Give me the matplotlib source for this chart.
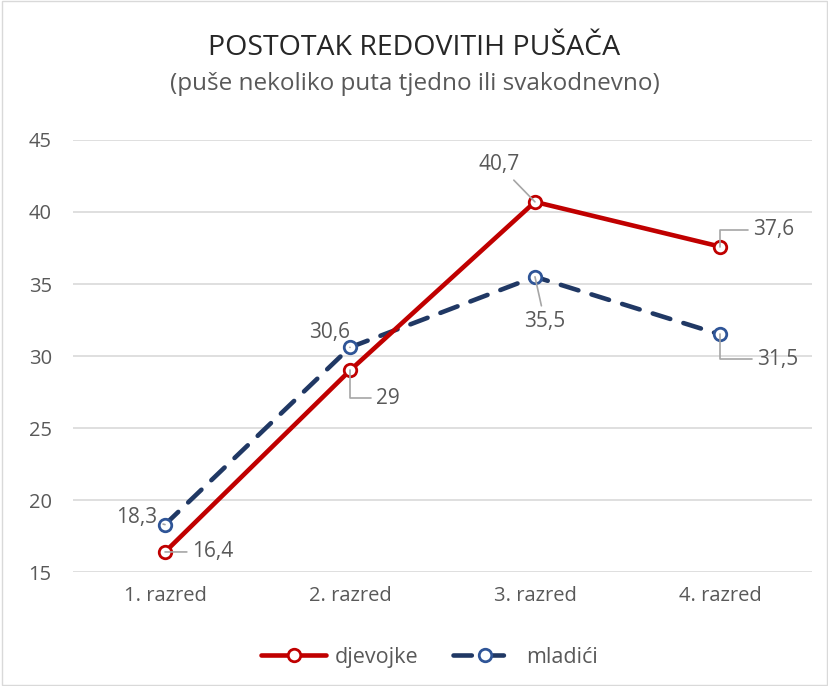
import matplotlib.pyplot as plt
from matplotlib.patches import Rectangle

plt.rcParams['font.family'] = ['Open Sans', 'DejaVu Sans']

razredi = ['1. razred', '2. razred', '3. razred', '4. razred']
djevojke = [16.4, 29, 40.7, 37.6]
mladici = [18.3, 30.6, 35.5, 31.5]
labels_d = ['16,4', '29', '40,7', '37,6']
labels_m = ['18,3', '30,6', '35,5', '31,5']

red = '#C00000'
navy = '#203864'
navy_edge = '#2F5597'
grey = '#595959'

fig = plt.figure(figsize=(8.29, 6.86), dpi=100)
ax = fig.add_axes([0.0875, 0.166, 0.8925, 0.63])

x = range(len(razredi))
ax.plot(x, djevojke, color=red, lw=3.3, marker='o', ms=9, mfc='white',
        mec=red, mew=2, label='djevojke', zorder=4, solid_capstyle='round')
ax.plot(x, mladici, color=navy, lw=3.3, ls=(0, (4, 3)), marker='o', ms=9,
        mfc='white', mec=navy_edge, mew=2, label='mladići', zorder=3,
        dash_capstyle='round')

# pomaci oznaka u pikselima i oblik spojnice
off_d = [(48, 0), (38, -28), (-36, 37), (54, 17)]
off_m = [(-28, 7), (-20, 15), (10, -45), (58, -25)]
con_d = ['arc3', 'angle,angleA=0,angleB=90,rad=0', 'arc3',
         'angle,angleA=0,angleB=90,rad=0']
con_m = ['arc3', 'arc3', 'arc3', 'angle,angleA=0,angleB=90,rad=0']
for i in x:
    for val, lab, off, con in ((djevojke[i], labels_d[i], off_d[i], con_d[i]),
                               (mladici[i], labels_m[i], off_m[i], con_m[i])):
        ax.annotate(lab, xy=(i, val), xytext=off, textcoords='offset pixels',
                    ha='center', va='center', fontsize=15, color=grey,
                    arrowprops=dict(arrowstyle='-', color='#a6a6a6', lw=1.2,
                                    shrinkA=2, shrinkB=0, connectionstyle=con),
                    zorder=5)

ax.set_xlim(-0.5, 3.5)
ax.set_ylim(15, 45)
ax.set_yticks(range(15, 46, 5))
ax.set_xticks(list(x))
ax.set_xticklabels(razredi)
ax.grid(axis='y', color='#d9d9d9', lw=1.2)
ax.set_axisbelow(True)
for s in ax.spines.values():
    s.set_visible(False)
ax.tick_params(length=0, labelsize=14.5, colors=grey, pad=10)
ax.tick_params(axis='y', pad=15)

fig.text(0.5, 0.93, 'POSTOTAK REDOVITIH PUŠAČA', ha='center', va='center',
         fontsize=20.5, color='#262626')
fig.text(0.5, 0.877, '(puše nekoliko puta tjedno ili svakodnevno)',
         ha='center', va='center', fontsize=17.5, color=grey)

leg = fig.legend(loc='center', bbox_to_anchor=(0.518, 0.042), ncol=2,
                 frameon=False, fontsize=15.5, handlelength=3.0,
                 columnspacing=1.6, handletextpad=0.4)
for t in leg.get_texts():
    t.set_color(grey)

fig.add_artist(Rectangle((0.002, 0.002), 0.996, 0.996, transform=fig.transFigure,
                         fill=False, edgecolor='#d9d9d9', lw=1))

fig.savefig('out.png', dpi=100)
